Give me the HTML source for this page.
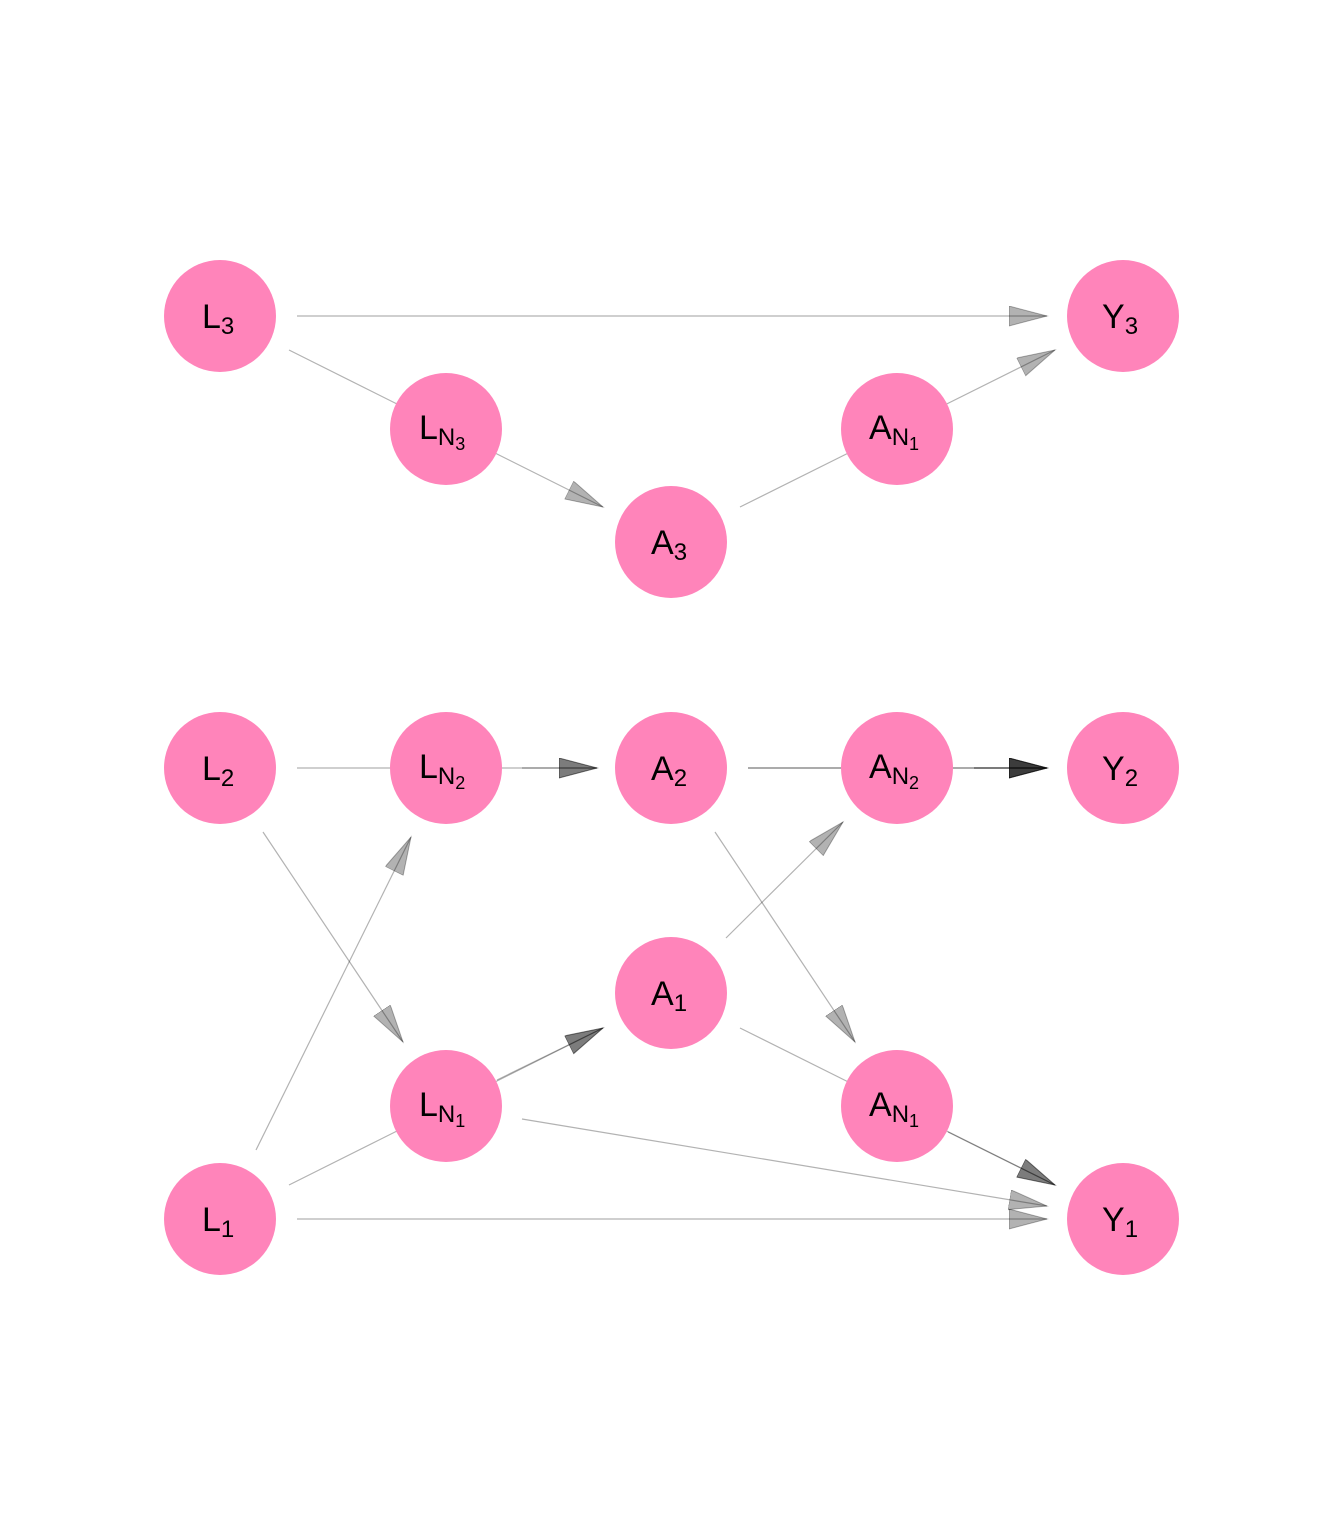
<!DOCTYPE html>
<html><head><meta charset="utf-8"><style>
html,body{margin:0;padding:0;background:#fff;}
svg{display:block}
text{font-family:"Liberation Sans",sans-serif;fill:#000}
</style></head><body>
<svg width="1344" height="1536" viewBox="0 0 1344 1536" xmlns="http://www.w3.org/2000/svg">
<defs>
<marker id="ah" markerWidth="40" markerHeight="22" refX="38" refY="10" orient="auto" markerUnits="userSpaceOnUse">
<path d="M0,0 L38,10 L0,20 Z" fill="rgba(0,0,0,0.3)" stroke="rgba(0,0,0,0.3)" stroke-width="1"/>
</marker>
</defs>
<g stroke="rgba(0,0,0,0.3)" stroke-width="1.2" fill="none">
<line x1="297" y1="316" x2="1047" y2="316" marker-end="url(#ah)"/>
<line x1="289" y1="350" x2="603" y2="507" marker-end="url(#ah)"/>
<line x1="740" y1="507" x2="1055" y2="350" marker-end="url(#ah)"/>
<line x1="297" y1="768" x2="597" y2="768" marker-end="url(#ah)"/>
<line x1="522" y1="768" x2="597" y2="768" marker-end="url(#ah)"/>
<line x1="748" y1="768" x2="1047" y2="768" marker-end="url(#ah)"/>
<line x1="748" y1="768" x2="1047" y2="768" marker-end="url(#ah)"/>
<line x1="974" y1="768" x2="1047" y2="768" marker-end="url(#ah)"/>
<line x1="974" y1="768" x2="1047" y2="768" marker-end="url(#ah)"/>
<line x1="263" y1="832" x2="403" y2="1042" marker-end="url(#ah)"/>
<line x1="256" y1="1150" x2="411" y2="837" marker-end="url(#ah)"/>
<line x1="726" y1="938" x2="843" y2="822" marker-end="url(#ah)"/>
<line x1="715" y1="832" x2="855" y2="1042" marker-end="url(#ah)"/>
<line x1="289" y1="1185" x2="603" y2="1028" marker-end="url(#ah)"/>
<line x1="497" y1="1080" x2="603" y2="1028" marker-end="url(#ah)"/>
<line x1="740" y1="1028" x2="1055" y2="1185" marker-end="url(#ah)"/>
<line x1="948" y1="1132" x2="1055" y2="1185" marker-end="url(#ah)"/>
<line x1="522" y1="1119" x2="1047" y2="1206" marker-end="url(#ah)"/>
<line x1="297" y1="1219" x2="1047" y2="1219" marker-end="url(#ah)"/>
</g>
<g fill="#FF84BA">
<circle cx="220" cy="316" r="56"/><circle cx="1123" cy="316" r="56"/>
<circle cx="446" cy="429" r="56"/><circle cx="897" cy="429" r="56"/>
<circle cx="671" cy="542" r="56"/>
<circle cx="220" cy="768" r="56"/><circle cx="446" cy="768" r="56"/>
<circle cx="671" cy="768" r="56"/><circle cx="897" cy="768" r="56"/>
<circle cx="1123" cy="768" r="56"/>
<circle cx="671" cy="993" r="56"/><circle cx="446" cy="1106" r="56"/>
<circle cx="897" cy="1106" r="56"/><circle cx="220" cy="1219" r="56"/>
<circle cx="1123" cy="1219" r="56"/>
</g>
<g font-size="34">
<text x="202" y="328">L<tspan font-size="24" dy="6">3</tspan></text>
<text x="1102" y="328">Y<tspan font-size="24" dy="6">3</tspan></text>
<text x="419" y="439">L<tspan font-size="24" dy="6">N</tspan><tspan font-size="18" dy="5">3</tspan></text>
<text x="869" y="439">A<tspan font-size="24" dy="6">N</tspan><tspan font-size="18" dy="5">1</tspan></text>
<text x="651" y="554">A<tspan font-size="24" dy="6">3</tspan></text>
<text x="202" y="780">L<tspan font-size="24" dy="6">2</tspan></text>
<text x="419" y="778">L<tspan font-size="24" dy="6">N</tspan><tspan font-size="18" dy="5">2</tspan></text>
<text x="651" y="780">A<tspan font-size="24" dy="6">2</tspan></text>
<text x="869" y="778">A<tspan font-size="24" dy="6">N</tspan><tspan font-size="18" dy="5">2</tspan></text>
<text x="1102" y="780">Y<tspan font-size="24" dy="6">2</tspan></text>
<text x="651" y="1005">A<tspan font-size="24" dy="6">1</tspan></text>
<text x="419" y="1116">L<tspan font-size="24" dy="6">N</tspan><tspan font-size="18" dy="5">1</tspan></text>
<text x="869" y="1116">A<tspan font-size="24" dy="6">N</tspan><tspan font-size="18" dy="5">1</tspan></text>
<text x="202" y="1231">L<tspan font-size="24" dy="6">1</tspan></text>
<text x="1102" y="1231">Y<tspan font-size="24" dy="6">1</tspan></text>
</g>
</svg>
</body></html>
